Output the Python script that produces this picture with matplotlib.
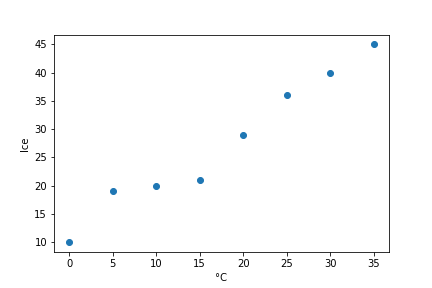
import matplotlib
matplotlib.use("Agg")
import matplotlib.pyplot as plt

temps = [0, 5, 10, 15, 20, 25, 30, 35]
ice = [10, 19, 20, 21, 29, 36, 40, 45]

fig, ax = plt.subplots(figsize=(6, 4), dpi=72)
fig.subplots_adjust(left=0.125, right=0.9, top=0.88, bottom=0.125)
ax.scatter(temps, ice, color="#1f77b4")
ax.set_xlabel("°C")
ax.set_ylabel("Ice")
fig.savefig("out.png", dpi=72)
